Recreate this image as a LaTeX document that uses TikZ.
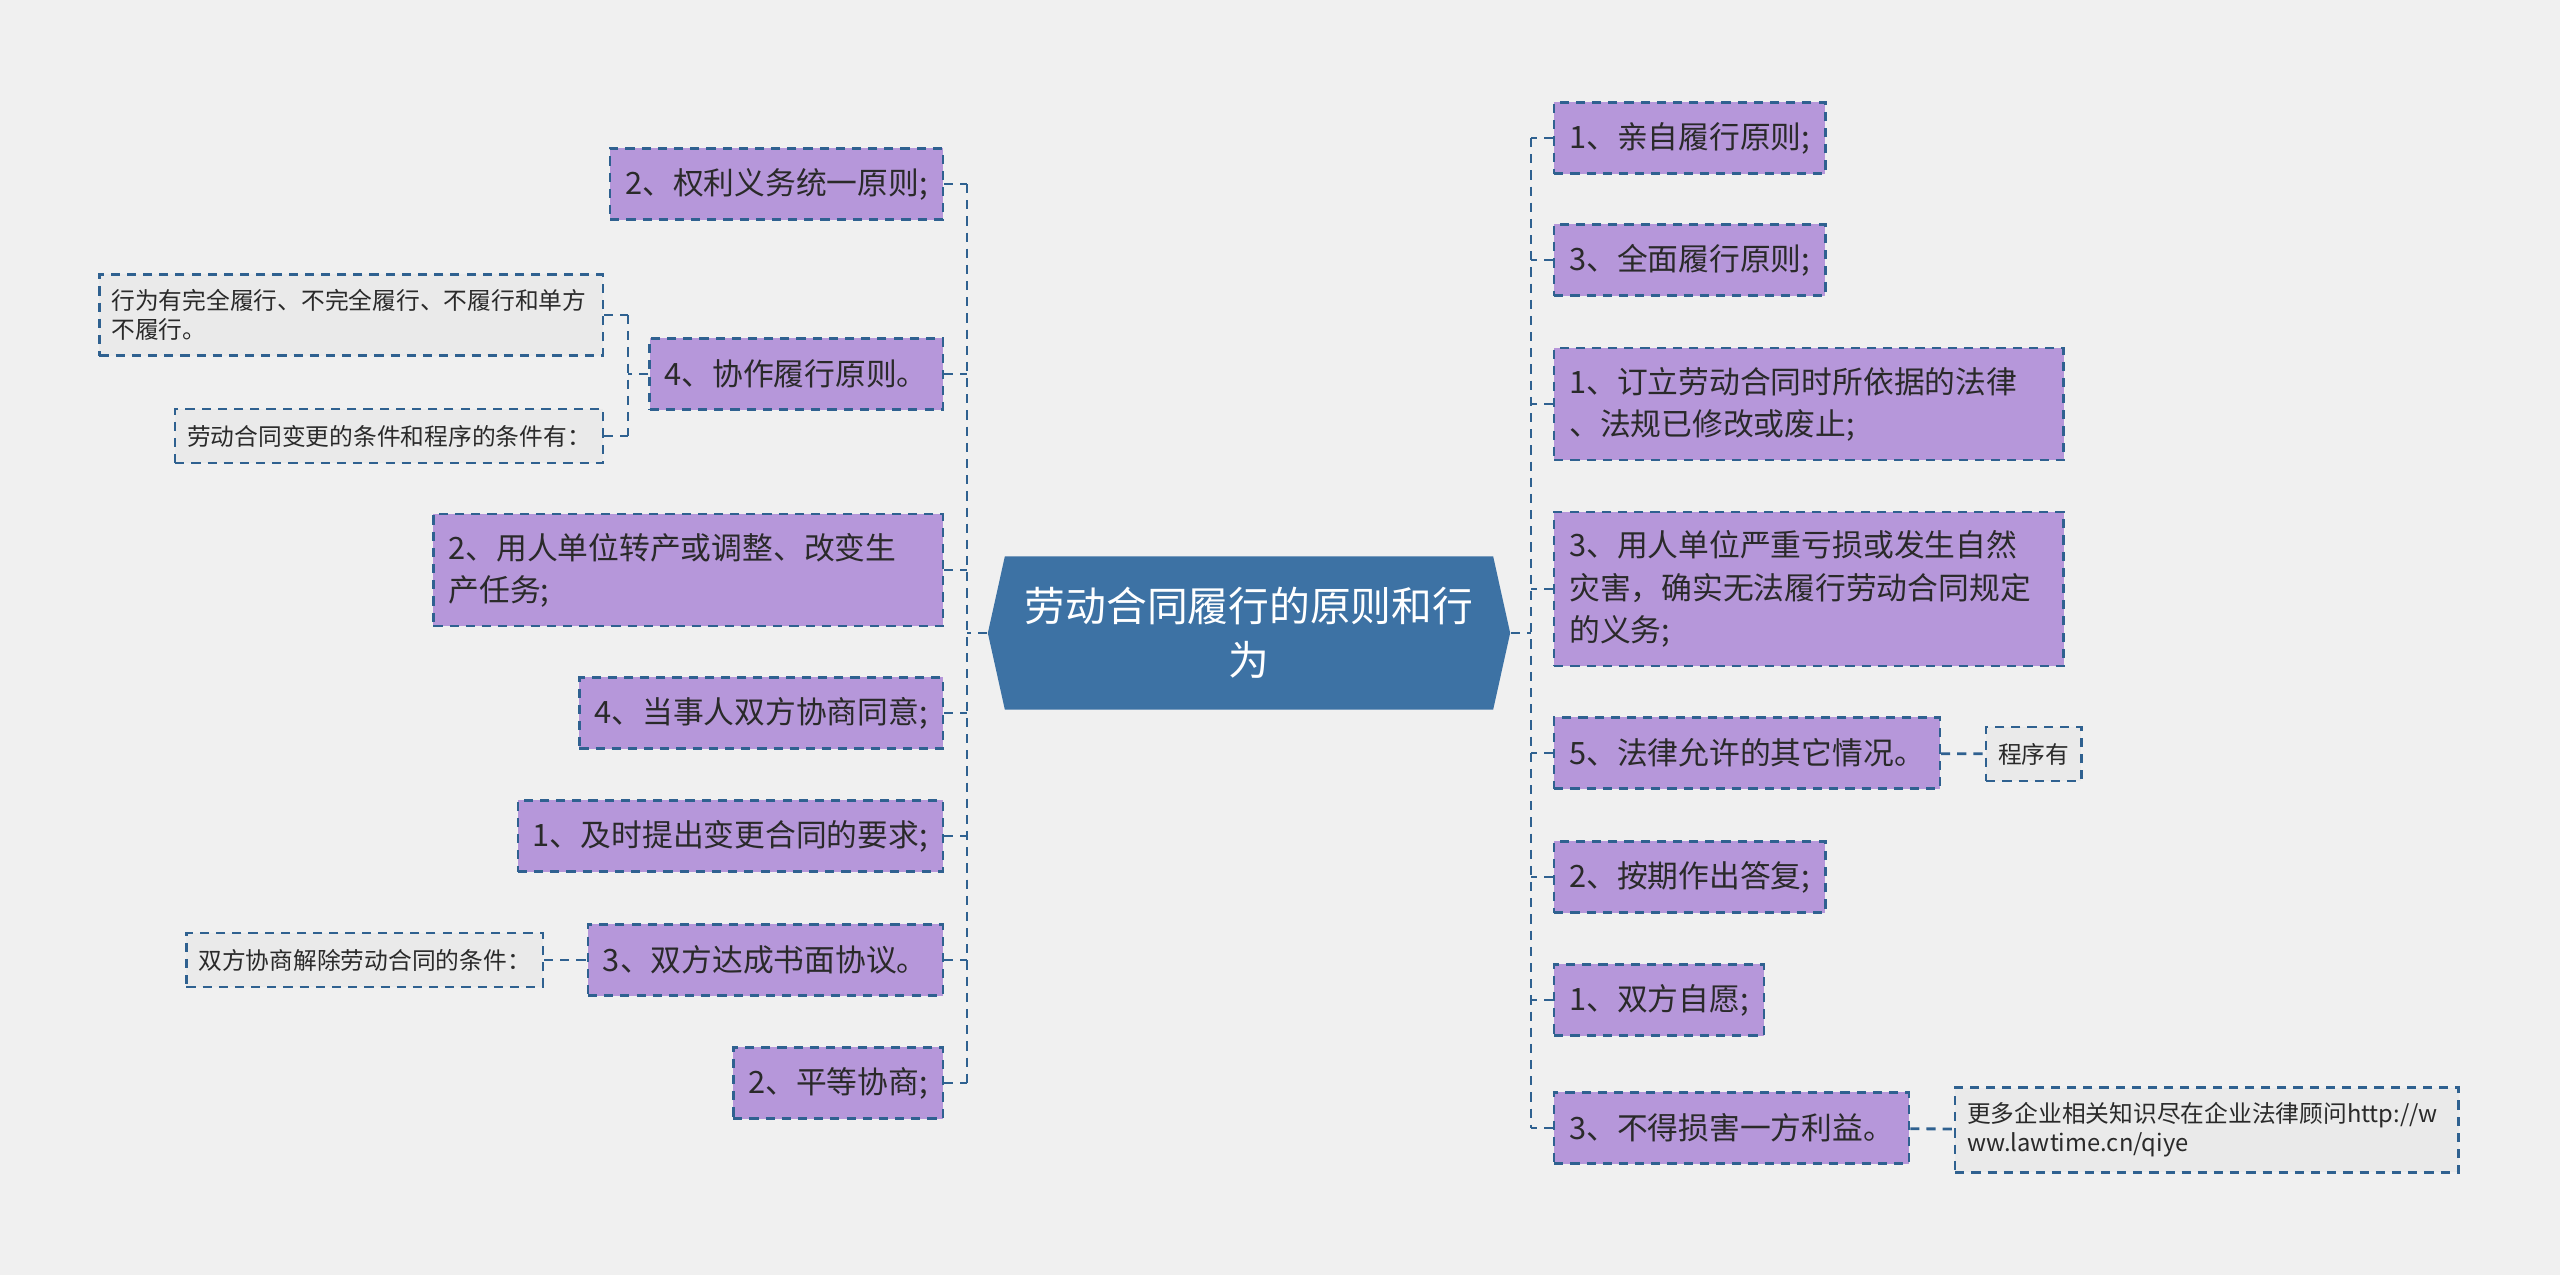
\documentclass[tikz,border=0pt]{standalone}
\usepackage{fontspec}
\setmainfont{Noto Sans CJK SC}
\usetikzlibrary{
  shapes.symbols,
  positioning
}
\definecolor{rootblue}{HTML}{3D72A4}
\definecolor{topicpurple}{HTML}{B697DA}
\definecolor{linkblue}{HTML}{2F6190}
\definecolor{notegray}{HTML}{EAEAEA}
\definecolor{bggray}{HTML}{F0F0F0}
\definecolor{darktext}{HTML}{2A2A2A}

\begin{document}
\begin{tikzpicture}[
    x=0.01cm, y=-0.01cm,
    topicbox/.style={rectangle, draw=linkblue, fill=topicpurple,
                 line width=0.7pt, dash pattern=on 2.6pt off 2pt,
                 inner xsep=0.15cm, inner ysep=0.19cm, minimum height=0.71cm,
                 align=left, text=darktext,
                 font=\fontsize{8.75}{12}\selectfont},
    notebox/.style={rectangle, draw=linkblue, fill=notegray,
                 line width=0.7pt, dash pattern=on 2.6pt off 2pt,
                 inner xsep=0.12cm, inner ysep=0.15cm, minimum height=0.54cm,
                 align=left, text=darktext,
                 font=\fontsize{6.75}{8.3}\selectfont},
    widebox/.style={text width=4.79cm},
    rootbox/.style={signal, signal to=west and east, signal pointer angle=155,
                 fill=rootblue, draw=none, text=white,
                 minimum width=5.22cm, minimum height=1.53cm, align=center,
                 font=\fontsize{11.6}{15.4}\selectfont},
    link/.style={draw=linkblue, line width=0.8pt, dash pattern=on 2.6pt off 2pt},
]
\fill[bggray] (0,0) rectangle (2560,1275);
\useasboundingbox (0,0) rectangle (2560,1275);

\node[rootbox] (root) at (1249,633) {劳动合同履行的原则和行\\为};

% left branch
\node[topicbox, anchor=east] (l1) at (944,184) {2、权利义务统一原则;};
\node[topicbox, anchor=east] (l2) at (944,374) {4、协作履行原则。};
\node[topicbox, widebox, anchor=east] (l3) at (944,570) {2、用人单位转产或调整、改变生\\产任务;};
\node[topicbox, anchor=east] (l4) at (944,713) {4、当事人双方协商同意;};
\node[topicbox, anchor=east] (l5) at (944,836) {1、及时提出变更合同的要求;};
\node[topicbox, anchor=east] (l6) at (944,960) {3、双方达成书面协议。};
\node[topicbox, anchor=east] (l7) at (944,1083) {2、平等协商;};

\node[notebox, widebox, anchor=east] (l2a) at (604,315) {行为有完全履行、不完全履行、不履行和单方\\不履行。};
\node[notebox, anchor=east] (l2b) at (604,436) {劳动合同变更的条件和程序的条件有：};
\node[notebox, anchor=east] (l6a) at (544,960) {双方协商解除劳动合同的条件：};

% right branch
\node[topicbox, anchor=west] (r1) at (1553,138) {1、亲自履行原则;};
\node[topicbox, anchor=west] (r2) at (1553,260) {3、全面履行原则;};
\node[topicbox, widebox, anchor=west] (r3) at (1553,404) {1、订立劳动合同时所依据的法律\\、法规已修改或废止;};
\node[topicbox, widebox, anchor=west] (r4) at (1553,589) {3、用人单位严重亏损或发生自然\\灾害，确实无法履行劳动合同规定\\的义务;};
\node[topicbox, anchor=west] (r5) at (1553,753) {5、法律允许的其它情况。};
\node[topicbox, anchor=west] (r6) at (1553,877) {2、按期作出答复;};
\node[topicbox, anchor=west] (r7) at (1553,1000) {1、双方自愿;};
\node[topicbox, anchor=west] (r8) at (1553,1128) {3、不得损害一方利益。};

\node[notebox, anchor=west] (r5a) at (1985,754) {程序有};
\node[notebox, widebox, anchor=west] (r8a) at (1954,1130) {更多企业相关知识尽在企业法律顾问http://w\\ww.lawtime.cn/qiye};

% connectors
\coordinate (lbus) at (967,633);
\coordinate (rbus) at (1531,633);
\coordinate (l2bus) at (628,374);

\draw[link] (root.west) -- (lbus);
\draw[link] (l1.east -| lbus) -- (l7.east -| lbus);
\foreach \n in {l1,l2,l3,l4,l5,l6,l7}
  \draw[link] (\n.east) -- (\n.east -| lbus);

\draw[link] (root.east) -- (rbus);
\draw[link] (r1.west -| rbus) -- (r8.west -| rbus);
\foreach \n in {r1,r2,r3,r4,r5,r6,r7,r8}
  \draw[link] (\n.west) -- (\n.west -| rbus);

\draw[link] (l2.west) -- (l2bus);
\draw[link] (l2a.east -| l2bus) -- (l2b.east -| l2bus);
\draw[link] (l2a.east) -- (l2a.east -| l2bus);
\draw[link] (l2b.east) -- (l2b.east -| l2bus);
\draw[link] (l6a) -- (l6);
\draw[link] (r5) -- (r5a);
\draw[link] (r8) -- (r8a);

\end{tikzpicture}
\end{document}
